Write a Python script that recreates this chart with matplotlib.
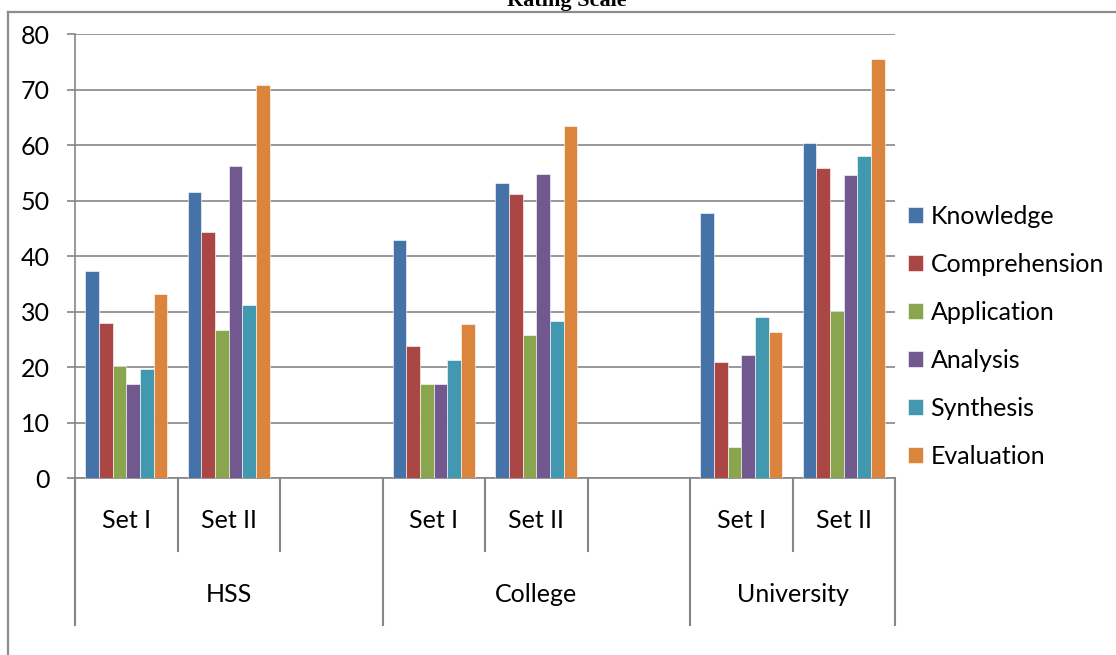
import matplotlib
matplotlib.use("Agg")
import matplotlib.pyplot as plt
from matplotlib.lines import Line2D
import matplotlib.transforms as mtransforms
import numpy as np

# Bloom's levels per institution and question set (blank slot between institutions)
slots = ["Set I", "Set II", "", "Set I", "Set II", "", "Set I", "Set II"]
groups = ["HSS", "College", "University"]
group_spans = [(0, 3), (3, 6), (6, 8)]

knowledge     = [37.3, 51.5, np.nan, 42.8, 53.2, np.nan, 47.7, 60.4]
comprehension = [28.0, 44.3, np.nan, 23.8, 51.2, np.nan, 20.9, 55.8]
application   = [20.2, 26.7, np.nan, 17.0, 25.8, np.nan, 5.6, 30.1]
analysis      = [17.0, 56.3, np.nan, 17.0, 54.8, np.nan, 22.1, 54.6]
synthesis     = [19.6, 31.2, np.nan, 21.3, 28.3, np.nan, 29.0, 58.0]
evaluation    = [33.1, 70.9, np.nan, 27.7, 63.5, np.nan, 26.3, 75.5]

series = {
    "Knowledge": knowledge,
    "Comprehension": comprehension,
    "Application": application,
    "Analysis": analysis,
    "Synthesis": synthesis,
    "Evaluation": evaluation,
}
colors = ["#4572A7", "#AA4643", "#89A54E", "#71588F", "#4198AF", "#DB843D"]

plt.rcParams["font.family"] = ["Lato", "DejaVu Sans"]
fs = 18

W, H = 1116, 655
fig = plt.figure(figsize=(W / 100, H / 100), dpi=100)

# plot area in pixels
x0, x1, ytop, ybot = 75, 895, 34, 478
ax = fig.add_axes([x0 / W, (H - ybot) / H, (x1 - x0) / W, (ybot - ytop) / H])

grey = "#868686"
n = len(series)
width = 0.8 / n
x = np.arange(len(slots)) + 0.5
for i, (name, vals) in enumerate(series.items()):
    ax.bar(x - 0.4 + width * (i + 0.5), vals, width, color=colors[i],
           edgecolor=(1, 1, 1, 0.6), linewidth=0.7, label=name, zorder=3)

ax.set_xlim(0, len(slots))
ax.set_ylim(0, 80)
ax.set_yticks(range(0, 81, 10))
ax.set_xticks([])
ax.grid(axis="y", color=grey, linewidth=1.2, zorder=0)
ax.tick_params(axis="y", length=6, width=1.2, color=grey, pad=12, labelsize=fs)
for s in ["top", "right"]:
    ax.spines[s].set_visible(False)
for s in ["left", "bottom"]:
    ax.spines[s].set_color(grey)
    ax.spines[s].set_linewidth(1.2)

# multi-level category axis drawn below the plot
ax_h = ybot - ytop
trans = mtransforms.blended_transform_factory(ax.transData, ax.transAxes)
short, long_ = -73 / ax_h, -147 / ax_h
long_pos = {0}
for a, b in group_spans:
    long_pos.add(b)
for k in range(len(slots) + 1):
    y_end = long_ if k in long_pos else short
    ax.add_line(Line2D([k, k], [0, y_end], transform=trans, color=grey,
                       linewidth=1.5, clip_on=False))
for k, lab in enumerate(slots):
    ax.text(k + 0.5, -42 / ax_h, lab, transform=trans, ha="center",
            va="center", fontsize=fs)
for (a, b), g in zip(group_spans, groups):
    ax.text((a + b) / 2, -116 / ax_h, g, transform=trans, ha="center",
            va="center", fontsize=fs)

# legend
leg = ax.legend(loc="center left", bbox_to_anchor=(908 / W, (H - 336) / H),
                bbox_transform=fig.transFigure, frameon=False, fontsize=fs,
                handlelength=0.6, handleheight=0.6, handletextpad=0.3,
                labelspacing=1.0, borderaxespad=0, borderpad=0)

# chart frame and title
fig.add_artist(Line2D([8 / W, 8 / W], [0, 1 - 12 / H], color="#8c8c8c", linewidth=1.6))
fig.add_artist(Line2D([8 / W, 1], [1 - 12 / H, 1 - 12 / H], color="#8c8c8c", linewidth=1.6))
fig.text(567 / W, 1 - 6 / H, "Rating Scale", ha="center", va="baseline",
         family="Liberation Serif", weight="bold", fontsize=16)

fig.savefig("out.png", dpi=100)
